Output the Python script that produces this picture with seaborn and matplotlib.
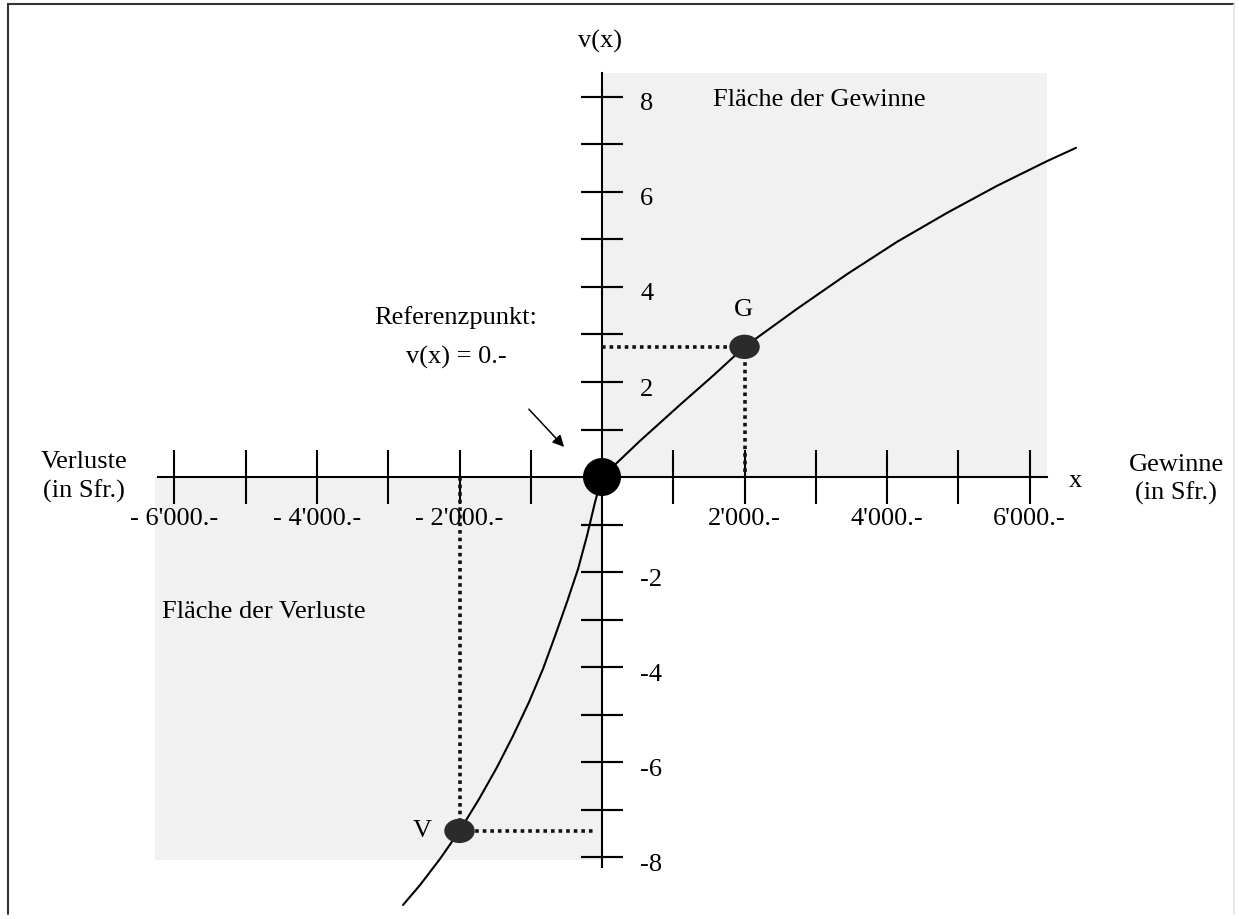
import numpy as np
import matplotlib
matplotlib.use("Agg")
import matplotlib.pyplot as plt
from matplotlib.patches import Rectangle
from matplotlib.markers import MarkerStyle
from matplotlib.path import Path
from matplotlib.transforms import Affine2D, ScaledTranslation
import seaborn as sns

# value curve (x in Sfr., y = v(x))
curve_x = [-2793, -2554, -2274, -2000, -1726, -1474, -1249, -1025, -828, -660,
           -491, -337, -211, -98, 0, 533, 1095, 1572, 2000, 2737, 3439, 4140,
           4842, 5544, 6246, 6653]
curve_y = [-9.01, -8.59, -8.04, -7.45, -6.78, -6.11, -5.45, -4.74, -4.04, -3.35,
           -2.63, -1.94, -1.24, -0.53, 0.0, 0.76, 1.52, 2.15, 2.74, 3.54, 4.27, 4.95,
           5.56, 6.13, 6.65, 6.93]

# marked points
point_names = ["G", "V"]
point_x = [2000, -2000]
point_y = [2.74, -7.45]

# ticks
x_ticks = [-6000, -5000, -4000, -3000, -2000, -1000, 1000, 2000, 3000, 4000, 5000, 6000]
x_labels = ["- 6'000.-", "", "- 4'000.-", "", "- 2'000.-", "", "", "2'000.-", "", "4'000.-", "", "6'000.-"]
y_ticks = [-8, -7, -6, -5, -4, -3, -2, -1, 1, 2, 3, 4, 5, 6, 7, 8]
y_labels = ["-8", "", "-6", "", "-4", "", "-2", "", "", "2", "", "4", "", "6", "", "8"]


def main():
    sns.set_style("white")
    plt.rcParams["font.family"] = ["Liberation Serif", "DejaVu Serif"]
    plt.rcParams["text.color"] = "black"
    plt.rcParams["xtick.color"] = "black"
    plt.rcParams["ytick.color"] = "black"
    fs = 19

    fig = plt.figure(figsize=(12.39, 9.2), dpi=100)
    ax = fig.add_axes([0, 0, 1, 1])
    ax.set_xlim(-8449, 8940)
    ax.set_ylim(-9.305, 10.063)
    ax.set_facecolor("white")

    # shaded quadrants
    shade = "#f1f1f1"
    ax.add_patch(Rectangle((0, 0), 6246, 8.5, color=shade, lw=0, zorder=0))
    ax.add_patch(Rectangle((-6274, -8.06), 6274, 8.06, color=shade, lw=0, zorder=0))

    # axes through the origin
    for side in ["left", "right", "bottom"]:
        ax.spines[side].set_position(("data", 0))
    ax.spines["top"].set_visible(False)
    ax.spines["right"].set_visible(False)
    ax.spines["bottom"].set_bounds(-6232, 6246)
    ax.spines["left"].set_bounds(-8.2, 8.5)
    for side in ["left", "bottom"]:
        ax.spines[side].set_linewidth(1.5)
        ax.spines[side].set_color("black")
        ax.spines[side].set_zorder(2)

    ax.set_xticks(x_ticks)
    ax.set_xticklabels(x_labels)
    ax.set_yticks(y_ticks)
    ax.set_yticklabels(y_labels)
    ax.tick_params(axis="x", bottom=True, top=False, direction="inout", length=38.9,
                   width=1.5, pad=2.5, labelsize=fs, color="black", labelcolor="black")
    ax.tick_params(axis="y", left=True, right=True, labelleft=False, labelright=True,
                   direction="inout", length=30.2, width=1.5, pad=12.3,
                   labelsize=fs, color="black", labelcolor="black")
    shift = ScaledTranslation(0, -4 / 100, fig.dpi_scale_trans)
    for lab in ax.get_yticklabels(which="both"):
        lab.set_transform(lab.get_transform() + shift)

    # value function
    sns.lineplot(x=curve_x, y=curve_y, sort=False, estimator=None, color="black",
                 linewidth=1.5, ax=ax, zorder=3, solid_joinstyle="round")

    # dotted guides
    dot = dict(color="#111111", lw=2.6, linestyle=(0, (1, 1.1)), zorder=2.5)
    gx, vx = point_x
    gy, vy = point_y
    ax.plot([0, gx], [gy, gy], **dot)
    ax.plot([gx, gx], [gy, 0], **dot)
    ax.plot([vx, vx], [0, vy], **dot)
    ax.plot([vx, -100], [vy, vy], **dot)

    # points
    ell = MarkerStyle(Path.unit_circle().transformed(Affine2D().scale(1.25, 1.0)))
    sns.scatterplot(x=point_x, y=point_y, marker=ell, s=480, color="#2b2b2b",
                    edgecolor="none", ax=ax, zorder=4)
    sns.scatterplot(x=[0], y=[0], s=750, color="black", edgecolor="none", ax=ax, zorder=5)

    # arrow to reference point
    ax.annotate("", xy=(-505, 0.59), xytext=(-1053, 1.47),
                arrowprops=dict(arrowstyle="-|>", color="black", lw=1.1, mutation_scale=17))

    # texts
    ax.text(-28, 9.18, "v(x)", fontsize=fs, ha="center", va="center")
    ax.text(1558, 7.96, "Fläche der Gewinne", fontsize=fs, ha="left", va="center")
    ax.text(-2049, 3.37, "Referenzpunkt:", fontsize=fs, ha="center", va="center")
    ax.text(-2049, 2.53, "v(x) = 0.-", fontsize=fs, ha="center", va="center")
    ax.text(1979, 3.54, point_names[0], fontsize=fs, ha="center", va="center")
    ax.text(-2526, -7.43, point_names[1], fontsize=fs, ha="center", va="center")
    ax.text(-7270, 0.34, "Verluste", fontsize=fs, ha="center", va="center")
    ax.text(-7270, -0.29, "(in Sfr.)", fontsize=fs, ha="center", va="center")
    ax.text(8056, 0.27, "Gewinne", fontsize=fs, ha="center", va="center")
    ax.text(8056, -0.32, "(in Sfr.)", fontsize=fs, ha="center", va="center")
    ax.text(6639, -0.06, "x", fontsize=fs, ha="center", va="center")
    ax.text(-6175, -2.82, "Fläche der Verluste", fontsize=fs, ha="left", va="center")

    # outer frame
    W, H = 1239, 920
    fig.add_artist(plt.Line2D([8 / W, 8 / W], [5 / H, 1 - 5 / H], color="#333333", lw=1.5))
    fig.add_artist(plt.Line2D([8 / W, 1 - 5 / W], [1 - 5 / H, 1 - 5 / H], color="#333333", lw=1.5))
    fig.add_artist(plt.Line2D([1 - 5 / W, 1 - 5 / W], [5 / H, 1 - 5 / H], color="#e4e4e4", lw=1.2))

    fig.savefig("out.png", dpi=100)


if __name__ == "__main__":
    main()
